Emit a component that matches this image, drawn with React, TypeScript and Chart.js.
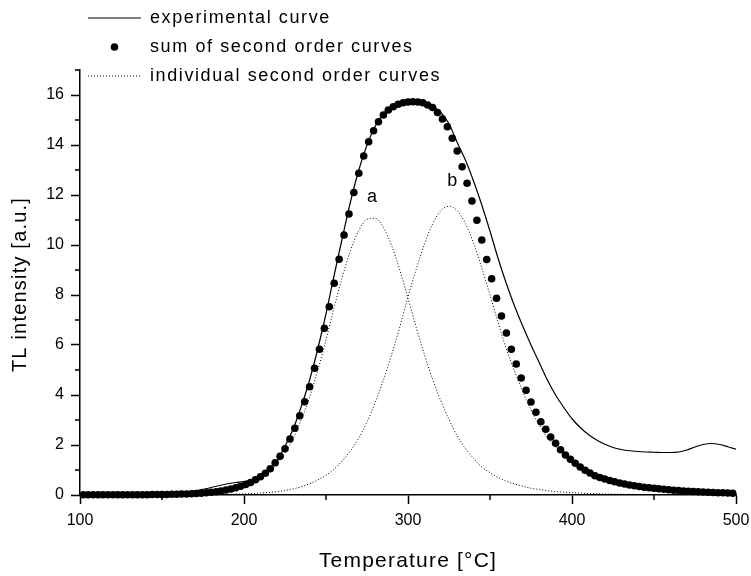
import React, { useEffect, useRef } from "react";
import { Chart, registerables } from "chart.js";

Chart.register(...registerables);

const FONT = "'Liberation Sans', Arial, Helvetica, sans-serif";

// ---- text ----
const legendLabels = [
  "experimental curve",
  "sum of second order curves",
  "individual second order curves",
];
const xTitle = "Temperature [°C]";
const yTitle = "TL intensity [a.u.]";
const peakLabels = ["a", "b"];
const peakLabelTemps = [278, 327];
const peakLabelValues = [11.9, 12.55];

// ---- axis ----
const xMin = 100;
const xMax = 500;
const xMajorStep = 100;
const xMinorStep = 50;
const yMin = 0;
const yMax = 17;
const yMajorStep = 2;
const yMinorStep = 1;

// ---- data: 5 degC grid (experimental curve + individual peaks) ----
const gridTemps = [
  100, 105, 110, 115, 120, 125, 130, 135, 140, 145, 150, 155, 160, 165, 170, 175, 180, 185, 190, 195,
  200, 205, 210, 215, 220, 225, 230, 235, 240, 245, 250, 255, 260, 265, 270, 275, 280, 285, 290, 295,
  300, 305, 310, 315, 320, 325, 330, 335, 340, 345, 350, 355, 360, 365, 370, 375, 380, 385, 390, 395,
  400, 405, 410, 415, 420, 425, 430, 435, 440, 445, 450, 455, 460, 465, 470, 475, 480, 485, 490, 495,
  500,
];

const experimental = [
  0.02, 0.02, 0.02, 0.03, 0.03, 0.03, 0.04, 0.04, 0.05, 0.06, 0.07, 0.08, 0.1, 0.13, 0.17, 0.23, 0.3, 0.38, 0.45, 0.5,
  0.54, 0.62, 0.78, 1.0, 1.35, 1.95, 2.65, 3.55, 4.6, 5.85, 7.25, 8.8, 10.3, 11.75, 13.0, 14.0, 14.75, 15.25, 15.55, 15.68,
  15.73, 15.74, 15.7, 15.55, 15.3, 14.85, 14.1, 13.4, 12.55, 11.6, 10.55, 9.45, 8.45, 7.55, 6.75, 6.0, 5.3, 4.6, 4.0, 3.5,
  3.05, 2.7, 2.42, 2.2, 2.03, 1.9, 1.82, 1.77, 1.74, 1.72, 1.71, 1.7, 1.7, 1.72, 1.8, 1.92, 2.02, 2.06, 2.02, 1.93,
  1.83,
];

const peakA = [
  0, 0, 0, 0, 0, 0.01, 0.01, 0.01, 0.01, 0.01, 0.015, 0.02, 0.028, 0.04, 0.052, 0.072, 0.097, 0.13, 0.18, 0.25,
  0.33, 0.455, 0.61, 0.87, 1.23, 1.68, 2.27, 3.03, 3.92, 4.99, 6.21, 7.51, 8.73, 9.79, 10.58, 11.03, 11.07, 10.7, 9.98, 9.0,
  7.87, 6.71, 5.62, 4.63, 3.77, 3.02, 2.37, 1.86, 1.46, 1.12, 0.89, 0.7, 0.55, 0.44, 0.35, 0.27, 0.22, 0.17, 0.14, 0.11,
  0.09, 0.075, 0.06, 0.05, 0.04, 0.035, 0.03, 0.025, 0.02, 0.018, 0.015, 0.012, 0.01, 0.01, 0.008, 0.007, 0.006, 0.005, 0.005, 0.004,
  0.004,
];

const peakB = [
  0, 0, 0, 0, 0, 0, 0, 0.001, 0.001, 0.002, 0.003, 0.004, 0.005, 0.006, 0.008, 0.011, 0.015, 0.02, 0.025, 0.034,
  0.045, 0.059, 0.078, 0.1, 0.134, 0.18, 0.25, 0.33, 0.45, 0.6, 0.79, 1.04, 1.37, 1.78, 2.28, 2.92, 3.69, 4.6, 5.61, 6.72,
  7.93, 9.03, 10.03, 10.84, 11.37, 11.55, 11.37, 10.86, 10.07, 9.08, 8.0, 6.89, 5.83, 4.95, 4.13, 3.41, 2.8, 2.3, 1.92, 1.57,
  1.29, 1.07, 0.88, 0.72, 0.6, 0.52, 0.46, 0.41, 0.36, 0.32, 0.28, 0.25, 0.22, 0.19, 0.17, 0.15, 0.13, 0.11, 0.1, 0.08,
  0.07,
];

// ---- data: sum of second order curves (3 degC grid, drawn as dots) ----
const sumTemps = [
  102, 105, 108, 111, 114, 117, 120, 123, 126, 129, 132, 135, 138, 141, 144, 147, 150, 153, 156, 159,
  162, 165, 168, 171, 174, 177, 180, 183, 186, 189, 192, 195, 198, 201, 204, 207, 210, 213, 216, 219,
  222, 225, 228, 231, 234, 237, 240, 243, 246, 249, 252, 255, 258, 261, 264, 267, 270, 273, 276, 279,
  282, 285, 288, 291, 294, 297, 300, 303, 306, 309, 312, 315, 318, 321, 324, 327, 330, 333, 336, 339,
  342, 345, 348, 351, 354, 357, 360, 363, 366, 369, 372, 375, 378, 381, 384, 387, 390, 393, 396, 399,
  402, 405, 408, 411, 414, 417, 420, 423, 426, 429, 432, 435, 438, 441, 444, 447, 450, 453, 456, 459,
  462, 465, 468, 471, 474, 477, 480, 483, 486, 489, 492, 495, 498,
];

const sumValues = [
  0.01, 0.01, 0.01, 0.01, 0.01, 0.01, 0.01, 0.01, 0.01, 0.01, 0.01, 0.01, 0.01, 0.01, 0.02, 0.02, 0.02, 0.02, 0.03, 0.03,
  0.04, 0.04, 0.05, 0.06, 0.07, 0.09, 0.11, 0.13, 0.16, 0.2, 0.24, 0.29, 0.35, 0.42, 0.5, 0.61, 0.73, 0.87, 1.05, 1.29,
  1.55, 1.85, 2.24, 2.67, 3.17, 3.73, 4.33, 5.07, 5.83, 6.67, 7.53, 8.47, 9.43, 10.4, 11.24, 12.1, 12.87, 13.56, 14.13, 14.57,
  14.93, 15.2, 15.4, 15.53, 15.63, 15.69, 15.72, 15.73, 15.72, 15.69, 15.6, 15.5, 15.3, 15.04, 14.73, 14.27, 13.76, 13.13, 12.47, 11.76,
  10.99, 10.2, 9.42, 8.65, 7.87, 7.16, 6.48, 5.83, 5.24, 4.68, 4.19, 3.72, 3.31, 2.93, 2.63, 2.32, 2.07, 1.81, 1.6, 1.43,
  1.27, 1.12, 0.99, 0.88, 0.77, 0.7, 0.64, 0.58, 0.53, 0.48, 0.44, 0.4, 0.37, 0.34, 0.31, 0.29, 0.27, 0.25, 0.23, 0.21,
  0.19, 0.18, 0.16, 0.15, 0.14, 0.13, 0.12, 0.11, 0.1, 0.09, 0.09, 0.08, 0.07,
];

const zip = (xs: number[], ys: number[]) => xs.map((x, i) => ({ x, y: ys[i] }));

const DOT_R = 3.8;
const DOTTED = [1, 2];

const decorPlugin = {
  id: "decor",
  afterDraw(chart: any) {
    const ctx: CanvasRenderingContext2D = chart.ctx;
    const xs = chart.scales.x;
    const ys = chart.scales.y;
    const area = chart.chartArea;

    ctx.save();
    // minor ticks
    ctx.strokeStyle = "#000";
    ctx.lineWidth = 1.5;
    ctx.beginPath();
    xs.ticks.forEach((t: any) => {
      if (t.value % xMajorStep !== 0) {
        const px = xs.getPixelForValue(t.value);
        ctx.moveTo(px, area.bottom);
        ctx.lineTo(px, area.bottom + 5);
      }
    });
    ys.ticks.forEach((t: any) => {
      if (t.value % yMajorStep !== 0) {
        const py = ys.getPixelForValue(t.value);
        ctx.moveTo(area.left - 5, py);
        ctx.lineTo(area.left, py);
      }
    });
    ctx.stroke();

    // legend
    const rowY = [18, 47, 76];
    const sx0 = 88;
    const sx1 = 141;
    ctx.fillStyle = "#000";
    ctx.strokeStyle = "#000";
    ctx.lineWidth = 1.2;
    ctx.setLineDash([]);
    ctx.beginPath();
    ctx.moveTo(sx0, rowY[0]);
    ctx.lineTo(sx1, rowY[0]);
    ctx.stroke();
    ctx.beginPath();
    ctx.arc((sx0 + sx1) / 2, rowY[1], DOT_R, 0, Math.PI * 2);
    ctx.fill();
    ctx.lineWidth = 1;
    ctx.setLineDash(DOTTED);
    ctx.beginPath();
    ctx.moveTo(sx0, rowY[2]);
    ctx.lineTo(sx1, rowY[2]);
    ctx.stroke();
    ctx.setLineDash([]);

    (ctx as any).letterSpacing = "1.6px";
    ctx.font = `18px ${FONT}`;
    ctx.textAlign = "left";
    ctx.textBaseline = "middle";
    legendLabels.forEach((lbl, i) => ctx.fillText(lbl, 150, rowY[i]));

    // peak labels
    (ctx as any).letterSpacing = "0px";
    ctx.textAlign = "center";
    peakLabels.forEach((lbl, i) => {
      ctx.fillText(lbl, xs.getPixelForValue(peakLabelTemps[i]), ys.getPixelForValue(peakLabelValues[i]));
    });

    // axis titles
    (ctx as any).letterSpacing = "1.2px";
    ctx.font = `21px ${FONT}`;
    ctx.textAlign = "center";
    ctx.fillText(xTitle, (area.left + area.right) / 2, 561);

    ctx.save();
    ctx.translate(20, (area.top + area.bottom) / 2 + 2);
    ctx.rotate(-Math.PI / 2);
    ctx.font = `20px ${FONT}`;
    ctx.fillText(yTitle, 0, 0);
    ctx.restore();

    ctx.restore();
  },
};

export default function App() {
  const canvasRef = useRef<HTMLCanvasElement | null>(null);

  useEffect(() => {
    document.body.style.margin = "0";
    const canvas = canvasRef.current;
    if (!canvas) return;
    const chart = new Chart(canvas, {
      type: "line",
      data: {
        datasets: [
          {
            label: legendLabels[1],
            data: zip(sumTemps, sumValues),
            showLine: false,
            pointRadius: DOT_R,
            pointHoverRadius: DOT_R,
            pointBackgroundColor: "#000",
            pointBorderWidth: 0,
            pointBorderColor: "#000",
            borderColor: "#000",
            clip: false as any,
            order: 0,
          },
          {
            label: legendLabels[0],
            data: zip(gridTemps, experimental),
            borderColor: "#000",
            borderWidth: 1.2,
            pointRadius: 0,
            cubicInterpolationMode: "monotone",
            order: 1,
          },
          {
            label: "a",
            data: zip(gridTemps, peakA),
            borderColor: "#000",
            borderWidth: 1,
            borderDash: DOTTED,
            pointRadius: 0,
            cubicInterpolationMode: "monotone",
            order: 2,
          },
          {
            label: "b",
            data: zip(gridTemps, peakB),
            borderColor: "#000",
            borderWidth: 1,
            borderDash: DOTTED,
            pointRadius: 0,
            cubicInterpolationMode: "monotone",
            order: 2,
          },
        ],
      },
      options: {
        responsive: false,
        animation: false,
        layout: { padding: { top: 70, right: 15, left: 0, bottom: 0 } },
        plugins: { legend: { display: false }, tooltip: { enabled: false } },
        events: [],
        scales: {
          x: {
            type: "linear",
            min: xMin,
            max: xMax,
            afterFit: (s: any) => {
              s.height = 81;
              s.paddingLeft = 0;
              s.paddingRight = 0;
            },
            ticks: {
              stepSize: xMinorStep,
              autoSkip: false,
              maxRotation: 0,
              padding: 7,
              color: "#000",
              font: { family: FONT, size: 16 },
              callback: (v: any) => (Number(v) % xMajorStep === 0 ? String(v) : ""),
            },
            grid: {
              drawOnChartArea: false,
              drawTicks: true,
              tickLength: 9,
              tickWidth: 1.5,
              tickColor: (c: any) => (c.tick && c.tick.value % xMajorStep === 0 ? "#000" : "rgba(0,0,0,0)"),
            },
            border: { display: true, color: "#000", width: 1.5 },
          },
          y: {
            type: "linear",
            min: yMin,
            max: yMax,
            afterFit: (s: any) => {
              s.width = 80;
              s.paddingTop = 0;
              s.paddingBottom = 0;
            },
            ticks: {
              stepSize: yMinorStep,
              autoSkip: false,
              padding: 7,
              color: "#000",
              font: { family: FONT, size: 16 },
              callback: (v: any) => (Number(v) % yMajorStep === 0 ? String(v) : ""),
            },
            grid: {
              drawOnChartArea: false,
              drawTicks: true,
              tickLength: 9,
              tickWidth: 1.5,
              tickColor: (c: any) => (c.tick && c.tick.value % yMajorStep === 0 ? "#000" : "rgba(0,0,0,0)"),
            },
            border: { display: true, color: "#000", width: 1.5 },
          },
        },
      },
      plugins: [decorPlugin],
    });
    return () => chart.destroy();
  }, []);

  return (
    <div style={{ position: "fixed", left: 0, top: 0, width: 751, height: 576, background: "#fff" }}>
      <canvas ref={canvasRef} width={751} height={576} style={{ display: "block" }} />
    </div>
  );
}
